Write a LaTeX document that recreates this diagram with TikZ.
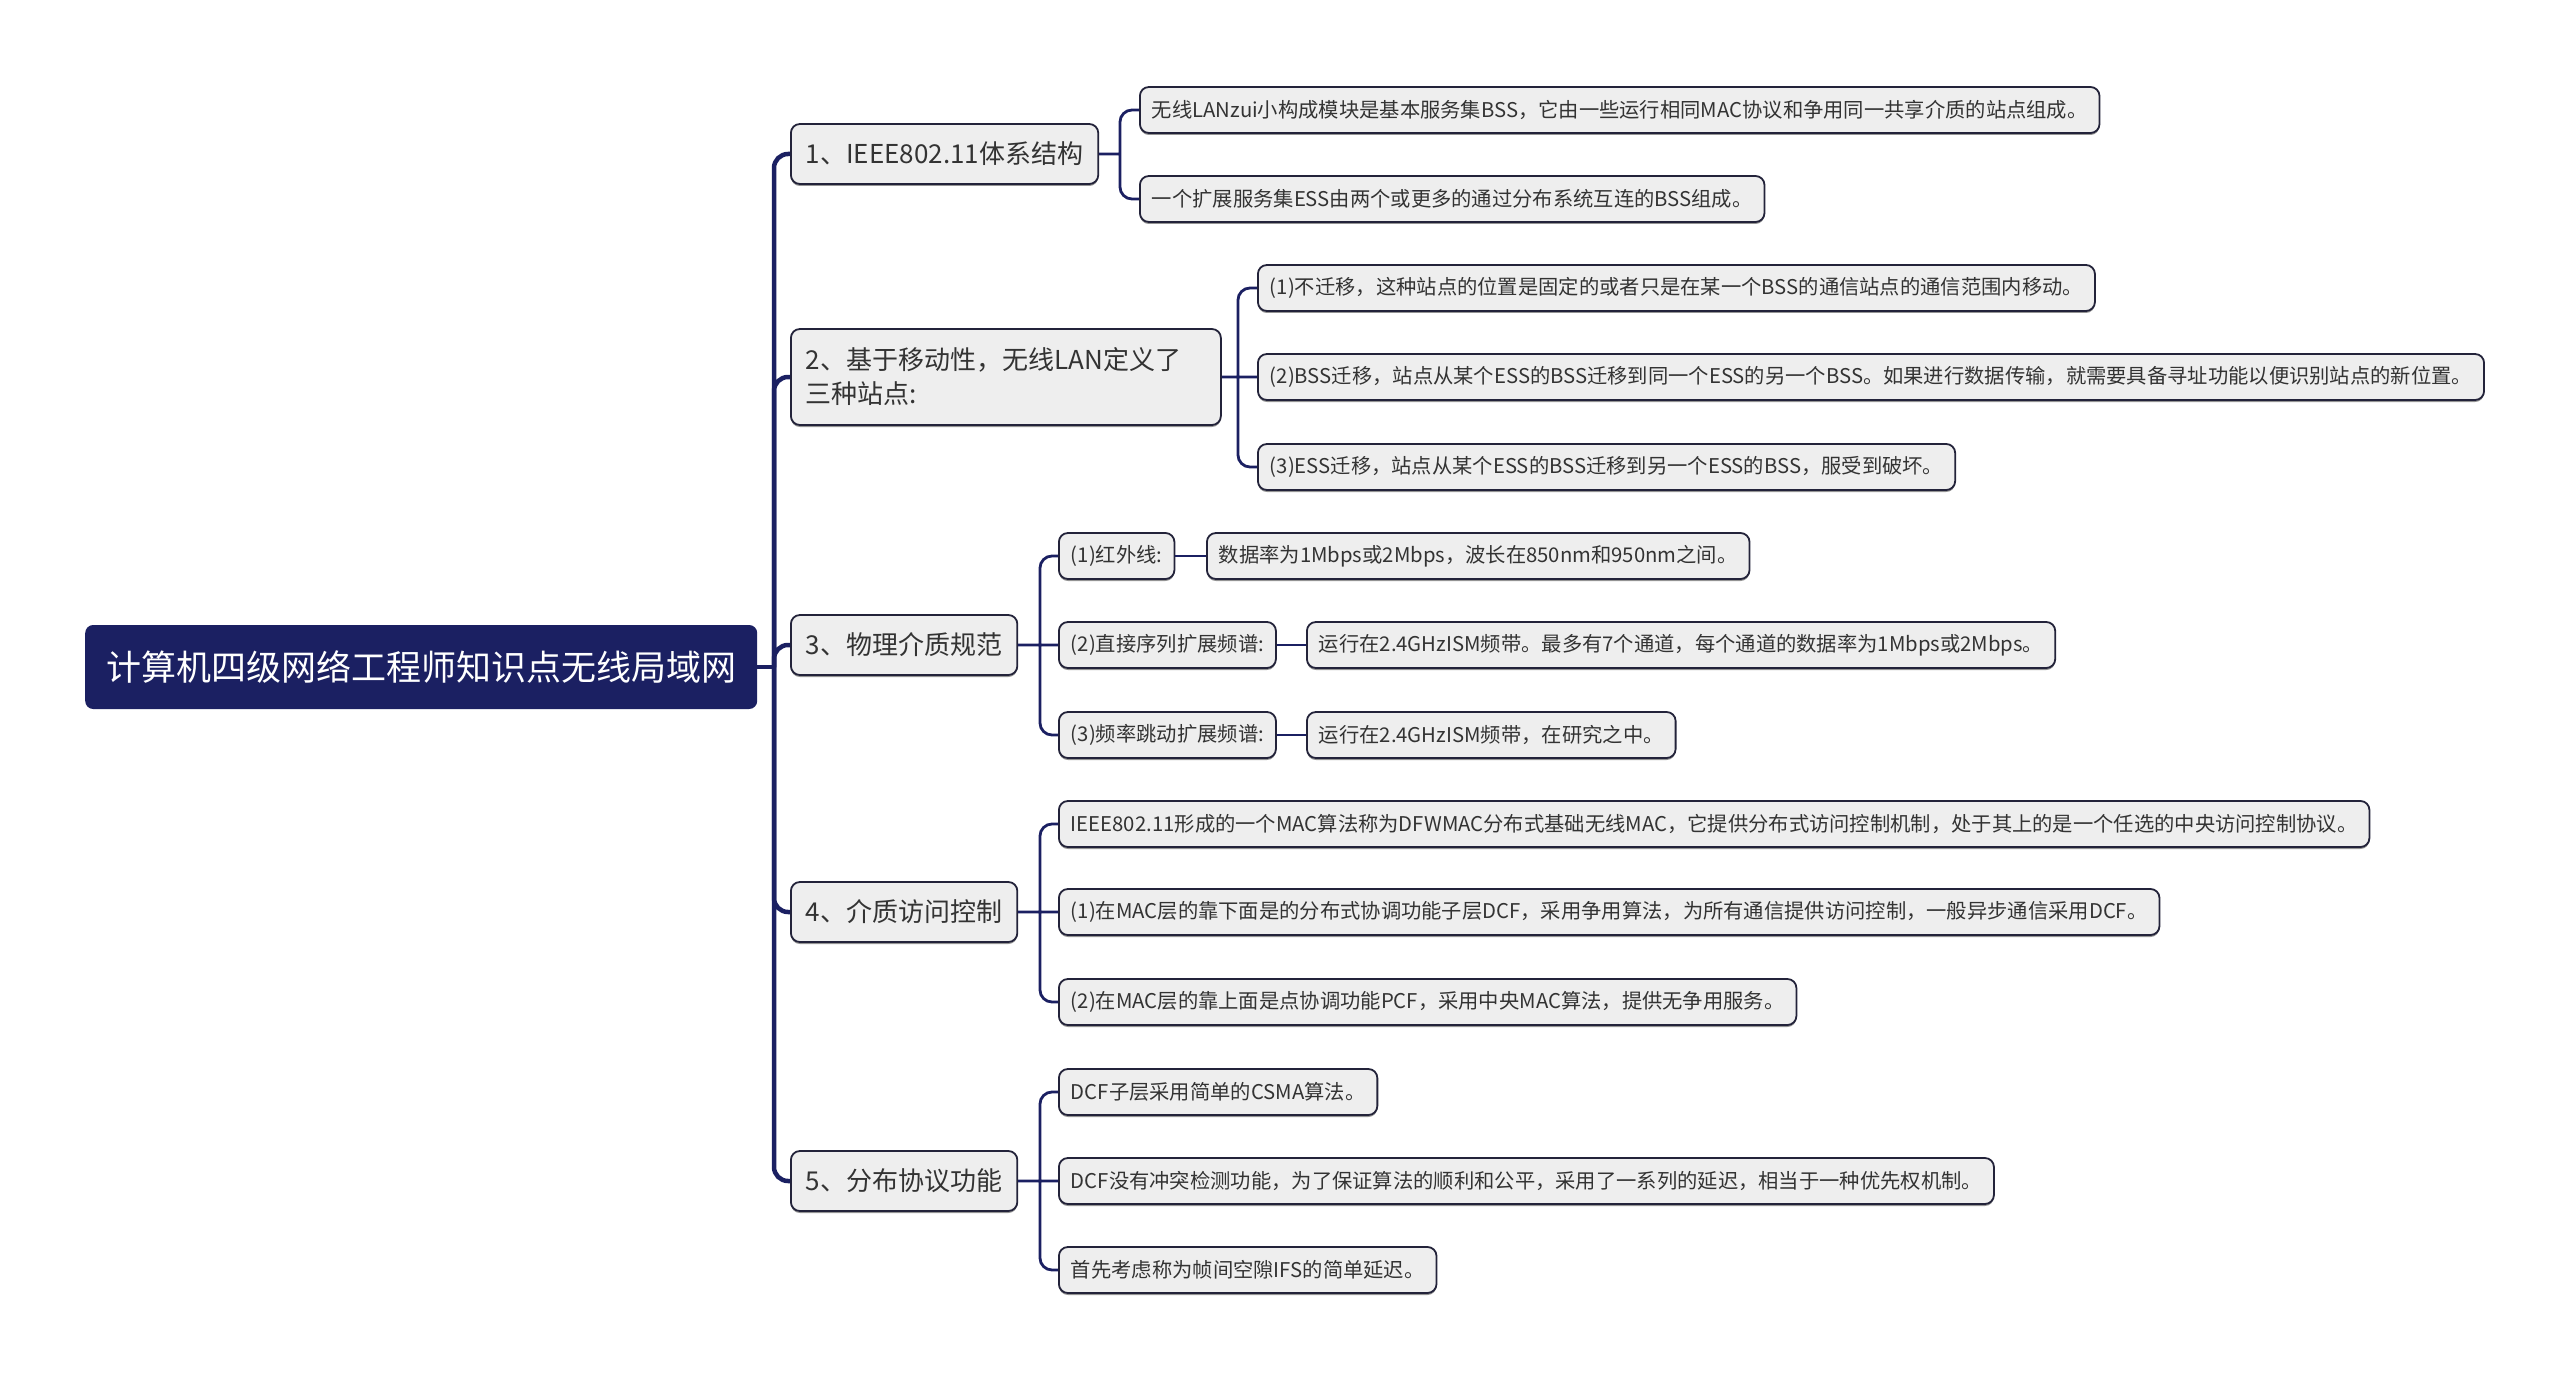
\documentclass[tikz,border=0pt]{standalone}
\usepackage{fontspec}
\setmainfont{Noto Sans CJK SC}
\usetikzlibrary{shadows}
\definecolor{navy}{HTML}{1B2062}
\definecolor{boxfill}{HTML}{EEEEEE}
\definecolor{boxline}{HTML}{23233A}
\definecolor{ink}{HTML}{333333}

\begin{document}
\begin{tikzpicture}[x=1pt,y=-1pt,
	root/.style={rectangle,rounded corners=8pt,fill=navy,text=white,anchor=west,font=\fontsize{35}{40}\selectfont,minimum height=84pt,inner xsep=21pt},
	topic/.style={rectangle,rounded corners=9pt,draw=boxline,line width=1.8pt,fill=boxfill,text=ink,anchor=west,align=left,font=\fontsize{26}{34}\selectfont,minimum height=60pt,inner xsep=15pt,drop shadow={shadow xshift=0pt,shadow yshift=-2pt,fill=black!70,opacity=.6}},
	leaf/.style={topic,font=\fontsize{20.3}{24}\selectfont,minimum height=46pt,inner xsep=12pt},
	trunk/.style={draw=navy,line width=4.5pt,rounded corners=14pt},
	twig/.style={draw=navy,line width=2.8pt,rounded corners=12pt}]
\useasboundingbox (0,0) rectangle (2560,1380);
\node[root] (root) at (85,667) {计算机四级网络工程师知识点无线局域网};
% main topics
\node[topic] (t1) at (790,154) {1、IEEE802.11体系结构};
\node[topic,minimum height=96pt,text width=400pt] (t2) at (790,377) {2、基于移动性，无线LAN定义了\\三种站点:};
\node[topic] (t3) at (790,645) {3、物理介质规范};
\node[topic] (t4) at (790,912) {4、介质访问控制};
\node[topic] (t5) at (790,1181) {5、分布协议功能};
% 1
\node[leaf] (l11) at (1139,110) {无线LANzui小构成模块是基本服务集BSS，它由一些运行相同MAC协议和争用同一共享介质的站点组成。};
\node[leaf] (l12) at (1139,199) {一个扩展服务集ESS由两个或更多的通过分布系统互连的BSS组成。};
% 2
\node[leaf] (l21) at (1257,288) {(1)不迁移，这种站点的位置是固定的或者只是在某一个BSS的通信站点的通信范围内移动。};
\node[leaf] (l22) at (1257,377) {(2)BSS迁移，站点从某个ESS的BSS迁移到同一个ESS的另一个BSS。如果进行数据传输，就需要具备寻址功能以便识别站点的新位置。};
\node[leaf] (l23) at (1257,467) {(3)ESS迁移，站点从某个ESS的BSS迁移到另一个ESS的BSS，服受到破坏。};
% 3
\node[leaf] (a31) at (1058,556) {(1)红外线:};
\node[leaf] (v31) at (1206,556) {数据率为1Mbps或2Mbps，波长在850nm和950nm之间。};
\node[leaf] (a32) at (1058,645) {(2)直接序列扩展频谱:};
\node[leaf] (v32) at (1306,645) {运行在2.4GHzISM频带。最多有7个通道，每个通道的数据率为1Mbps或2Mbps。};
\node[leaf] (a33) at (1058,735) {(3)频率跳动扩展频谱:};
\node[leaf] (v33) at (1306,735) {运行在2.4GHzISM频带，在研究之中。};
% 4
\node[leaf] (l41) at (1058,824) {IEEE802.11形成的一个MAC算法称为DFWMAC分布式基础无线MAC，它提供分布式访问控制机制，处于其上的是一个任选的中央访问控制协议。};
\node[leaf] (l42) at (1058,912) {(1)在MAC层的靠下面是的分布式协调功能子层DCF，采用争用算法，为所有通信提供访问控制，一般异步通信采用DCF。};
\node[leaf] (l43) at (1058,1002) {(2)在MAC层的靠上面是点协调功能PCF，采用中央MAC算法，提供无争用服务。};
% 5
\node[leaf] (l51) at (1058,1092) {DCF子层采用简单的CSMA算法。};
\node[leaf] (l52) at (1058,1181) {DCF没有冲突检测功能，为了保证算法的顺利和公平，采用了一系列的延迟，相当于一种优先权机制。};
\node[leaf] (l53) at (1058,1270) {首先考虑称为帧间空隙IFS的简单延迟。};
% connectors
\coordinate (r0) at (774,667);
\draw[trunk] (root.east) -- (r0);
\foreach \t in {t1,t2,t3,t4,t5}
	\draw[trunk] (r0) |- (\t.west);
\coordinate (c1) at (1120,154);
\coordinate (c2) at (1238,377);
\coordinate (c3) at (1040,645);
\coordinate (c4) at (1040,912);
\coordinate (c5) at (1040,1181);
\draw[twig] (t1.east) -- (c1) (c1) |- (l11.west) (c1) |- (l12.west);
\draw[twig] (t2.east) -- (l22.west) (c2) |- (l21.west) (c2) |- (l23.west);
\draw[twig] (t3.east) -- (a32.west) (c3) |- (a31.west) (c3) |- (a33.west);
\draw[twig] (t4.east) -- (l42.west) (c4) |- (l41.west) (c4) |- (l43.west);
\draw[twig] (t5.east) -- (l52.west) (c5) |- (l51.west) (c5) |- (l53.west);
\draw[twig] (a31.east) -- (v31.west) (a32.east) -- (v32.west) (a33.east) -- (v33.west);
\end{tikzpicture}
\end{document}
